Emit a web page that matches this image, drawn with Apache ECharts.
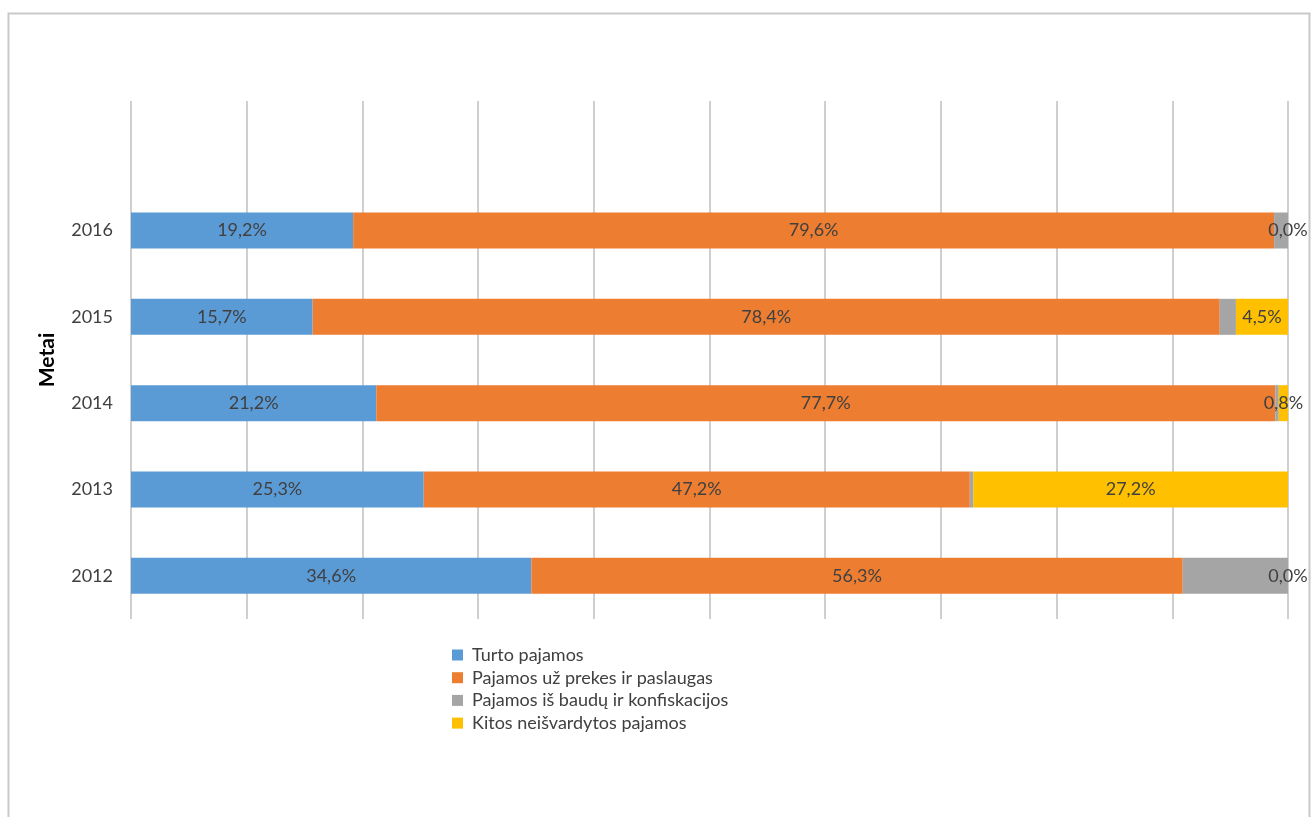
<!DOCTYPE html>
<html>
<head>
<meta charset="utf-8">
<script src="https://cdn.jsdelivr.net/npm/echarts@6/dist/echarts.min.js"></script>
<style>
  html, body { margin: 0; padding: 0; background: #fff; }
  #chart { width: 1311px; height: 817px; }
</style>
</head>
<body>
<div id="chart"></div>
<script>
// Years on the category axis (bottom to top); the last slot stays empty
const years = ['2012', '2013', '2014', '2015', '2016', ''];

// Share of income by type, % of total for each year
const turtoPajamos = [34.6, 25.3, 21.2, 15.7, 19.2, '-'];
const pajamosUzPrekes = [56.3, 47.2, 77.7, 78.4, 79.6, '-'];
const pajamosIsBaudu = [9.1, 0.3, 0.3, 1.4, 1.2, '-'];
const kitosPajamos = [0.0, 27.2, 0.8, 4.5, 0.0, '-'];

const seriesNames = [
  'Turto pajamos',
  'Pajamos už prekes ir paslaugas',
  'Pajamos iš baudų ir konfiskacijos',
  'Kitos neišvardytos pajamos'
];
const colors = ['#5B9BD5', '#ED7D31', '#A5A5A5', '#FFC000'];
const FONT = 'Lato, "Open Sans", sans-serif';

function pct(p) {
  return Number(p.value).toFixed(1).replace('.', ',') + '%';
}

function barSeries(name, data, showLabel) {
  return {
    name: name,
    type: 'bar',
    stack: 'total',
    barWidth: 36,
    data: data,
    label: {
      show: showLabel,
      position: 'inside',
      color: '#404040',
      fontFamily: FONT,
      fontSize: 18,
      formatter: pct
    },
    emphasis: { disabled: true }
  };
}

const chart = echarts.init(document.getElementById('chart'), null, { renderer: 'canvas' });
chart.setOption({
  animation: false,
  color: colors,
  textStyle: { fontFamily: FONT },
  graphic: [{
    type: 'rect',
    shape: { x: 8.5, y: 13.5, width: 1301, height: 830 },
    style: { fill: 'none', stroke: '#c9c9c9', lineWidth: 2 },
    silent: true,
    z: -1
  }],
  grid: { left: 131, right: 23, top: 101, bottom: 198, containLabel: false },
  xAxis: {
    type: 'value',
    min: 0,
    max: 100,
    interval: 10,
    axisLabel: { show: false },
    axisTick: { show: false },
    axisLine: { show: false },
    splitLine: { show: true, lineStyle: { color: '#cfcfcf', width: 2 } }
  },
  yAxis: {
    type: 'category',
    data: years,
    name: 'Metai',
    nameLocation: 'middle',
    nameRotate: 90,
    nameGap: 73,
    nameTextStyle: { fontFamily: FONT, fontWeight: 'bold', fontSize: 21, color: '#000' },
    axisLine: { show: false },
    axisTick: { show: false },
    axisLabel: { color: '#404040', fontFamily: FONT, fontSize: 18, margin: 18 }
  },
  legend: {
    orient: 'vertical',
    left: 447,
    top: 641,
    itemWidth: 11,
    itemHeight: 11,
    itemGap: 4.7,
    icon: 'rect',
    textStyle: {
      color: '#404040', fontFamily: FONT, fontSize: 18,
      padding: [0, 0, 0, 4]
    },
    data: seriesNames
  },
  series: [
    barSeries(seriesNames[0], turtoPajamos, true),
    barSeries(seriesNames[1], pajamosUzPrekes, true),
    barSeries(seriesNames[2], pajamosIsBaudu, false),
    barSeries(seriesNames[3], kitosPajamos, true)
  ]
});
</script>
</body>
</html>
